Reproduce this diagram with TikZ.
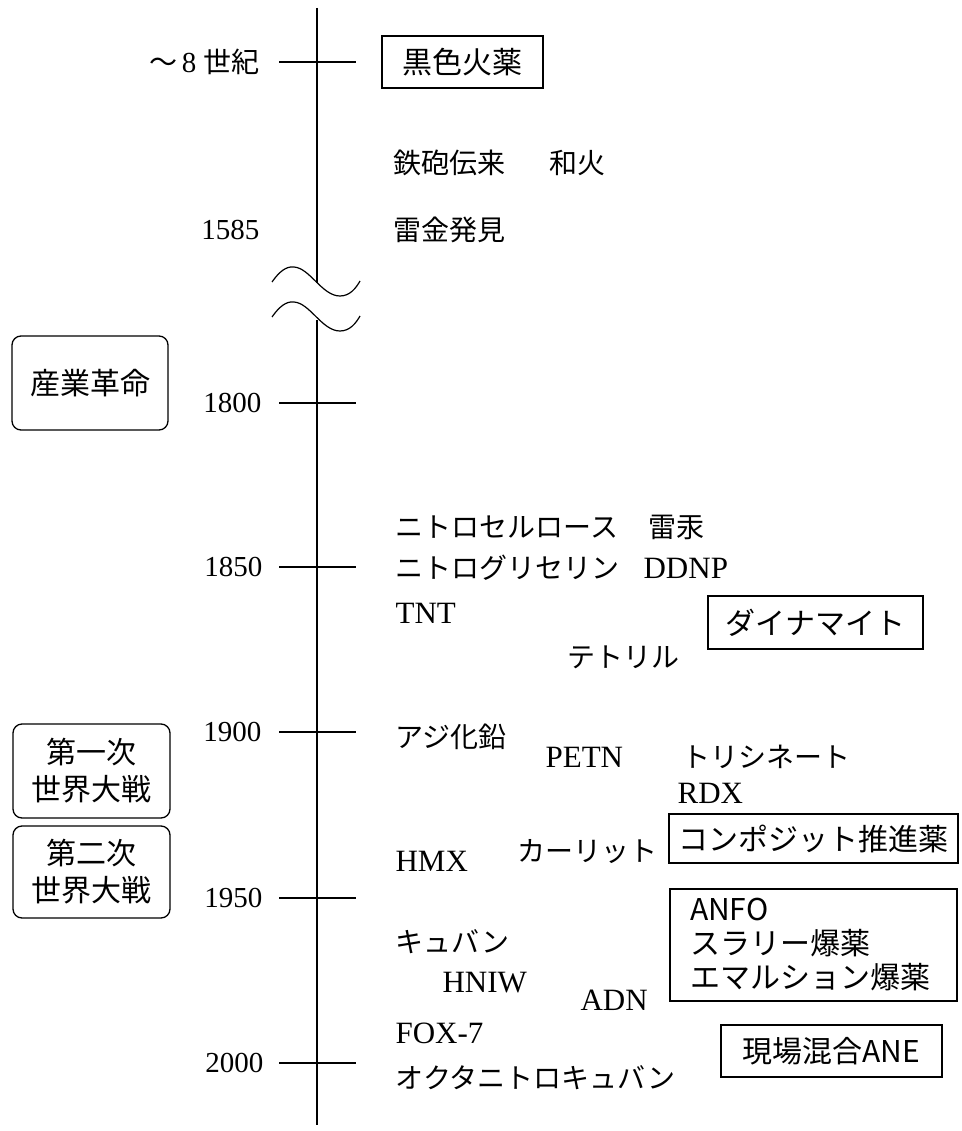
\documentclass[tikz,border=0pt]{standalone}
\usepackage{fontspec}
\setmainfont{Liberation Serif}
\newfontfamily\jp{Noto Sans CJK JP}
\newcommand\jtxt[1]{{\jp\fontsize{28}{32}\selectfont #1}}
\begin{document}
\begin{tikzpicture}[x=1pt,y=-1pt,
  line width=1.2pt,
  jtext/.style={anchor=west,inner sep=0pt,font=\jp\fontsize{28}{32}\selectfont},
  ltext/.style={anchor=west,inner sep=0pt,font=\fontsize{31}{34}\selectfont},
  yr/.style={anchor=east,inner sep=0pt,font=\fontsize{29}{32}\selectfont},
  sqbox/.style={draw,line width=1.3pt,inner sep=0pt,font=\jp\fontsize{30}{35}\selectfont},
  rbox/.style={sqbox,rounded corners=9pt,align=center,font=\jp\fontsize{30}{37}\selectfont}]
\useasboundingbox (0,0) rectangle (961,1131);

% axis with break
\draw (317,8) -- (317,283);
\draw (317,320) -- (317,1125);
\draw (272,282) .. controls (279,272) and (286,266) .. (294,267)
      .. controls (310,268) and (322,296) .. (340,296)
      .. controls (350,296) and (356,288) .. (360,281);
\draw (272,317) .. controls (279,307) and (286,301) .. (294,302)
      .. controls (310,303) and (322,331) .. (340,331)
      .. controls (350,331) and (356,323) .. (360,316);

% ticks
\foreach \y in {62,403,567,732,898,1063} \draw (279,\y) -- (356,\y);

% year labels
\node[yr] (c8) at (260,62) {\jtxt{〜}\hspace{4pt}8\hspace{7pt}\jtxt{世紀}};
\node[yr] (y1585) at (260,230) {1585};
\node[yr] (y1800) at (262,403) {1800};
\node[yr] (y1850) at (263,567) {1850};
\node[yr] (y1900) at (262,732) {1900};
\node[yr] (y1950) at (263,898) {1950};
\node[yr] (y2000) at (264,1063) {2000};

% left rounded boxes
\node[rbox,minimum width=156pt,minimum height=94pt] (ir) at (90,383) {産業革命};
\node[rbox,minimum width=157pt,minimum height=94pt] (ww1) at (91.5,771) {第一次\\世界大戦};
\node[rbox,minimum width=157pt,minimum height=92pt] (ww2) at (91.5,872) {第二次\\世界大戦};

% right column texts
\node[sqbox,minimum width=161pt,minimum height=52pt] (bp) at (462.5,62) {黒色火薬};
\node[jtext] (teppo) at (393,163) {鉄砲伝来\hspace{44pt}和火};
\node[jtext] (raikin) at (393,230) {雷金発見};
\node[jtext] (nc) at (395,527) {ニトロセルロース\hspace{30pt}雷汞};
\node[ltext] (ng) at (395,568) {\jtxt{ニトログリセリン}\hspace{24pt}DDNP};
\node[ltext] (tnt) at (395,613) {TNT};
\node[jtext] (tetryl) at (567,657) {テトリル};
\node[sqbox,minimum width=215pt,minimum height=53pt] (dyn) at (815.5,622.5) {ダイナマイト};
\node[jtext] (azide) at (395,737) {アジ化鉛};
\node[ltext] (petn) at (545,757) {PETN};
\node[jtext] (tri) at (682,757) {トリシネート};
\node[ltext] (rdx) at (677,793) {RDX};
\node[sqbox,minimum width=289pt,minimum height=49pt] (comp) at (813.5,838.5) {コンポジット推進薬};
\node[ltext] (hmx) at (395,861) {HMX};
\node[jtext] (carlit) at (517,852) {カーリット};
\node[sqbox,minimum width=287pt,minimum height=112pt,inner xsep=20pt,text width=247pt,align=left,font=\jp\fontsize{30}{34}\selectfont] (anfo) at (813.5,945) {ANFO\\スラリー爆薬\\エマルション爆薬};
\node[jtext] (cubane) at (395,942) {キュバン};
\node[ltext] (hniw) at (442,983) {HNIW};
\node[ltext] (adn) at (580,1000) {ADN};
\node[ltext] (fox) at (395,1033) {FOX-7};
\node[sqbox,minimum width=221pt,minimum height=52pt] (ane) at (831.5,1051) {現場混合ANE};
\node[jtext] (onc) at (395,1078) {オクタニトロキュバン};
\end{tikzpicture}
\end{document}
